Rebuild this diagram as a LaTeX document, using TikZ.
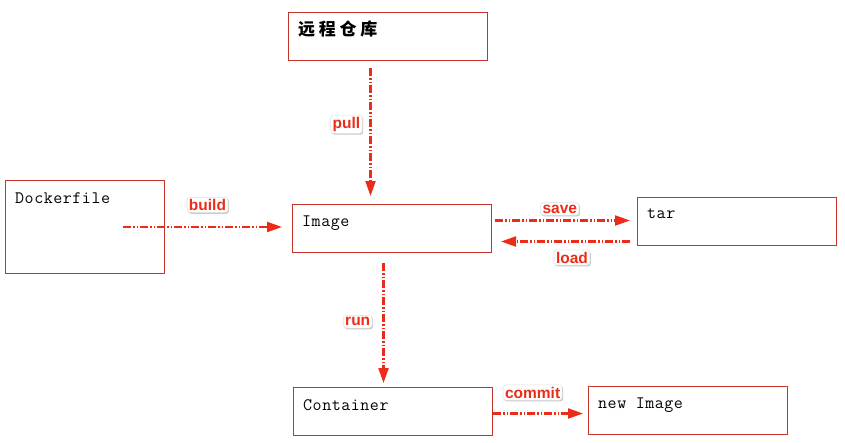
\documentclass[tikz,border=0pt]{standalone}
\usepackage{fontspec}
\setmonofont[LetterSpace=3]{Latin Modern Mono}
\setsansfont{Liberation Sans}
\newfontfamily\cjkfont[LetterSpace=22]{Noto Sans CJK SC}
\usetikzlibrary{arrows.meta,shadows}
\definecolor{boxred}{RGB}{196,52,40}
\definecolor{flowred}{RGB}{236,44,24}

\begin{document}
\begin{tikzpicture}[x=1pt,y=-1pt,
    box/.style={draw=boxred,line width=1pt,minimum width=199pt,minimum height=48pt,anchor=north west,inner sep=0pt},
    boxtext/.style={anchor=north west,inner sep=0pt,xshift=10pt,yshift=-12pt,font=\ttfamily\fontsize{17.5}{17.5}\selectfont},
    flow/.style={draw=flowred,line width=2.2pt,dash pattern=on 8pt off 2pt on 1.5pt off 2pt on 1.5pt off 2pt,-{Triangle[length=15pt,width=10pt]}},
    tag/.style={fill=white,draw=black!12,line width=0.6pt,solid,text=flowred,rounded corners=3pt,inner sep=2pt,font=\sffamily\bfseries\fontsize{15.5}{15.5}\selectfont,drop shadow={opacity=0.45,shadow xshift=1pt,shadow yshift=-1.2pt}}]

    \useasboundingbox (0,0) rectangle (845,442);

    \node[box,label={[boxtext,yshift=3pt,font=\cjkfont\bfseries\fontsize{17}{17}\selectfont]north west:远程仓库}] (repo) at (288,12) {};
    \node[box,minimum width=159pt,minimum height=93pt,label={[boxtext]north west:Dockerfile}] (docker) at (5,180) {};
    \node[box,label={[boxtext]north west:Image}] (image) at (292,204) {};
    \node[box,label={[boxtext]north west:tar}] (tar) at (637,197) {};
    \node[box,label={[boxtext]north west:Container}] (cont) at (293,387) {};
    \node[box,label={[boxtext]north west:new Image}] (newimg) at (588,386) {};

    \path[flow] ([xshift=-17.5pt,yshift=-7pt]repo.south) -- node[tag,left=8pt,pos=0.44] {pull} ([xshift=-21.5pt,yshift=8pt]image.north);
    \path[flow,shorten >=10pt] ([xshift=-42pt]docker.east) -- node[tag,above=14pt,pos=0.5] {build} (docker.east -| image.west);
    \path[flow] ([xshift=3pt,yshift=8pt]image.east) -- node[tag,above=5pt,pos=0.48] {save} ([xshift=-7pt,yshift=1pt]tar.west);
    \path[flow] ([xshift=-7pt,yshift=-20pt]tar.west) -- node[tag,below=8pt,pos=0.45] {load} ([xshift=9pt,yshift=-13pt]image.east);
    \path[flow] ([xshift=-8.5pt,yshift=-10pt]image.south) -- node[tag,left=11pt,pos=0.49] {run} ([xshift=-9.5pt,yshift=4pt]cont.north);
    \path[flow] ([yshift=-2pt]cont.east) -- node[tag,above=13pt,pos=0.44] {commit} ([xshift=-5pt,yshift=-3pt]newimg.west);
\end{tikzpicture}
\end{document}
